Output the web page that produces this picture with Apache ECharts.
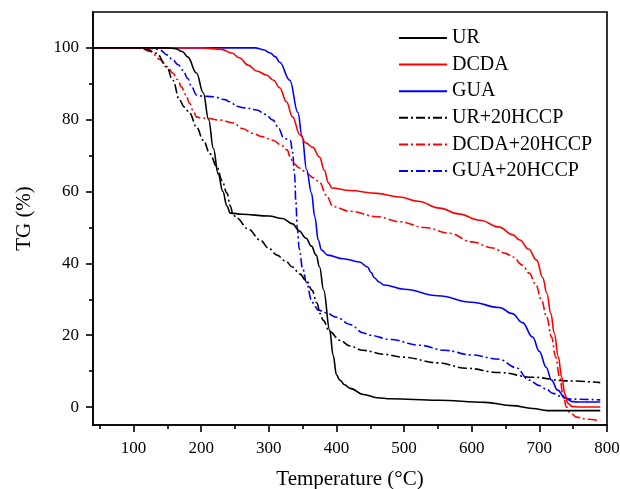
<!DOCTYPE html>
<html>
<head>
<meta charset="utf-8">
<script src="https://cdn.jsdelivr.net/npm/echarts@6/dist/echarts.min.js"></script>
<style>html,body{margin:0;padding:0;background:#fff}#c{width:620px;height:489px}</style>
</head>
<body>
<div id="c"></div>
<script>
var seriesNames = ['UR', 'DCDA', 'GUA', 'UR+20HCCP', 'DCDA+20HCCP', 'GUA+20HCCP'];
var xTicks = [100, 200, 300, 400, 500, 600, 700, 800];
var xMinor = [50, 150, 250, 350, 450, 550, 650, 750];
var yTicks = [0, 20, 40, 60, 80, 100];
var yMinor = [10, 30, 50, 70, 90];

var urData = [[40,100],[150,100],[162,99.8],[172,99],[180,97.5],[193,93],[203,87.5],[211,80],[218,72],[225,65],[232,60],[238,56],[243,54],[260,53.7],[300,53.2],[320,52.5],[335,51],[345,49],[355,47],[363,44.8],[370,42.3],[375,39],[381,32.6],[390,21.4],[395,14.5],[400,9],[405,7.5],[412,6.2],[420,5.2],[440,3.5],[460,2.6],[480,2.3],[550,1.9],[620,1.3],[660,0.4],[690,-0.4],[712,-1],[790,-1]];
var dcdaData = [[40,100],[200,100],[230,99.6],[245,98.6],[257,97.2],[269,95.2],[283,93.5],[297,92.4],[307,91],[316,88.9],[326,85],[335,80.8],[346,75.8],[355,73.5],[365,72.3],[375,69.6],[382,66],[388,62.5],[393,61],[420,60.3],[460,59.5],[493,58.5],[520,57.3],[553,55.4],[580,53.8],[612,52],[641,50.1],[660,48],[671,46.5],[684,44],[696,40.9],[705,36],[711,31.7],[717,26],[722,20.6],[728,14],[733,8.3],[738,3.5],[742,1.1],[748,0.2],[760,0],[790,0]];
var guaData = [[40,100],[280,100],[292,99.5],[302,98.6],[310,97.5],[316,96],[331,91],[343,82],[349,75.5],[356,66],[363,59.6],[368,53],[373,46.5],[378,43.7],[387,42.3],[410,41.3],[434,40.4],[446,39],[451,37.5],[456,36],[463,34.8],[470,34],[500,32.8],[550,31],[600,29.2],[641,27.7],[660,26],[675,23.5],[690,19.5],[700,15.5],[710,11.1],[718,7.5],[727,4.7],[738,2.5],[749,1.5],[760,1.4],[790,1.4]];
var urHccpData = [[40,100],[105,100],[120,99.6],[134,98.5],[149,94.7],[158,91],[168,85.5],[175,83.5],[183,81.8],[193,78],[203,74.3],[213,70.5],[223,66.9],[231,63],[238,59.6],[243,56],[247,53.7],[252,52.6],[270,49.5],[287,46.5],[300,44.2],[312,42.3],[325,40.6],[335,39],[346,37],[356,35],[364,32.5],[371,29],[376,26],[380,24.2],[390,21],[405,18.6],[420,17],[439,15.8],[470,14.7],[498,13.9],[550,12.3],[592,10.8],[641,9.6],[690,8.3],[740,7.3],[790,6.8]];
var dcdaHccpData = [[40,100],[110,100],[125,99],[139,96.8],[150,94.8],[158,93],[165,91.2],[171,89.1],[177,87],[183,84.6],[188,82.5],[193,80.8],[200,80.5],[208,80.4],[228,79.9],[247,79.1],[262,77.5],[276,76.2],[290,75.3],[306,74.3],[318,73],[327,71.6],[332,69.5],[336,67.9],[346,66.5],[356,65.1],[366,63.8],[375,62.6],[385,59],[395,55.8],[420,54.5],[460,53],[493,51.6],[530,50],[567,48.4],[600,46],[631,44.3],[650,42.8],[661,41.8],[675,39.5],[685,37.3],[695,34],[703,29.8],[711,25],[718,19.5],[724,14],[730,8.3],[735,3.5],[740,0],[745,-1.5],[755,-2.8],[770,-3.4],[790,-3.8]];
var guaHccpData = [[40,100],[120,100],[130,99.8],[139,99.4],[150,98],[158,96.6],[166,95.3],[173,93.8],[180,91.5],[186,89.1],[193,86.9],[200,86.6],[218,86.4],[235,85.6],[242,85],[247,84.5],[250,83.8],[265,83.3],[282,82.7],[295,81.5],[306,79.9],[315,77.5],[321,75.2],[327,74.6],[332,74.2],[335,71],[338,65],[340,57],[342,50],[345,44],[350,38.5],[356,34.5],[363,29.8],[368,28],[373,27],[385,26.2],[400,25],[420,23],[440,20.6],[449,20],[480,18.8],[523,17.2],[560,15.8],[600,14.5],[641,13.3],[665,11],[685,7.5],[700,6],[710,5],[720,3.8],[735,2.7],[745,2.2],[790,2]];

var allData = [urData, dcdaData, guaData, urHccpData, dcdaHccpData, guaHccpData];
var colors = ['#000000', '#ff0000', '#0000ff', '#000000', '#ff0000', '#0000ff'];
var dashDot = [9, 3, 2, 3];
var FONT = 'Liberation Serif';

var series = allData.map(function (d, i) {
  return {
    name: seriesNames[i],
    type: 'line',
    data: d,
    xAxisIndex: 0,
    yAxisIndex: 0,
    symbol: 'none',
    smooth: 0.4,
    smoothMonotone: 'x',
    z: 10 - i,
    lineStyle: { color: colors[i], width: 1.6, type: i < 3 ? 'solid' : dashDot },
    itemStyle: { color: colors[i] }
  };
});

var chart = echarts.init(document.getElementById('c'));
chart.setOption({
  animation: false,
  backgroundColor: '#fff',
  textStyle: { fontFamily: FONT },
  grid: [
    { left: 93, right: 13, top: 12, bottom: 64, outerBoundsMode: 'none', containLabel: false, show: true, borderColor: '#000', borderWidth: 1.6, backgroundColor: 'transparent' },
    { left: 93, right: 13, top: 12, bottom: 64, outerBoundsMode: 'none', containLabel: false }
  ],
  legend: {
    orient: 'vertical',
    left: 393,
    top: 23,
    itemWidth: 48,
    itemHeight: 20,
    itemGap: 6.6,
    itemStyle: { opacity: 0 },
    textStyle: { fontFamily: FONT, fontSize: 20, color: '#000', lineHeight: 20 },
    data: seriesNames
  },
  xAxis: [
    {
      type: 'value', gridIndex: 0, min: 40, max: 800,
      name: 'Temperature (°C)', nameLocation: 'middle', nameGap: 44,
      nameTextStyle: { fontFamily: FONT, fontSize: 21, color: '#000' },
      axisLine: { show: true, onZero: false, lineStyle: { color: '#000', width: 1.6 } },
      axisTick: { show: true, inside: false, length: 7, customValues: xTicks, lineStyle: { color: '#000', width: 1.6 } },
      axisLabel: { customValues: xTicks, margin: 15, fontFamily: FONT, fontSize: 17, color: '#000' },
      splitLine: { show: false }
    },
    {
      type: 'value', gridIndex: 1, min: 40, max: 800,
      axisLine: { show: false, onZero: false },
      axisTick: { show: true, inside: false, length: 4, customValues: xMinor, lineStyle: { color: '#000', width: 1.6 } },
      axisLabel: { show: false },
      splitLine: { show: false }
    }
  ],
  yAxis: [
    {
      type: 'value', gridIndex: 0, min: -5, max: 110,
      name: 'TG (%)', nameLocation: 'middle', nameGap: 58,
      nameTextStyle: { fontFamily: FONT, fontSize: 21, color: '#000' },
      axisLine: { show: true, onZero: false, lineStyle: { color: '#000', width: 1.6 } },
      axisTick: { show: true, inside: false, length: 7, customValues: yTicks, lineStyle: { color: '#000', width: 1.6 } },
      axisLabel: { customValues: yTicks, margin: 14, fontFamily: FONT, fontSize: 17, color: '#000' },
      splitLine: { show: false }
    },
    {
      type: 'value', gridIndex: 1, min: -5, max: 110,
      axisLine: { show: false, onZero: false },
      axisTick: { show: true, inside: false, length: 4, customValues: yMinor, lineStyle: { color: '#000', width: 1.6 } },
      axisLabel: { show: false },
      splitLine: { show: false }
    }
  ],
  series: series
});
</script>
</body>
</html>
